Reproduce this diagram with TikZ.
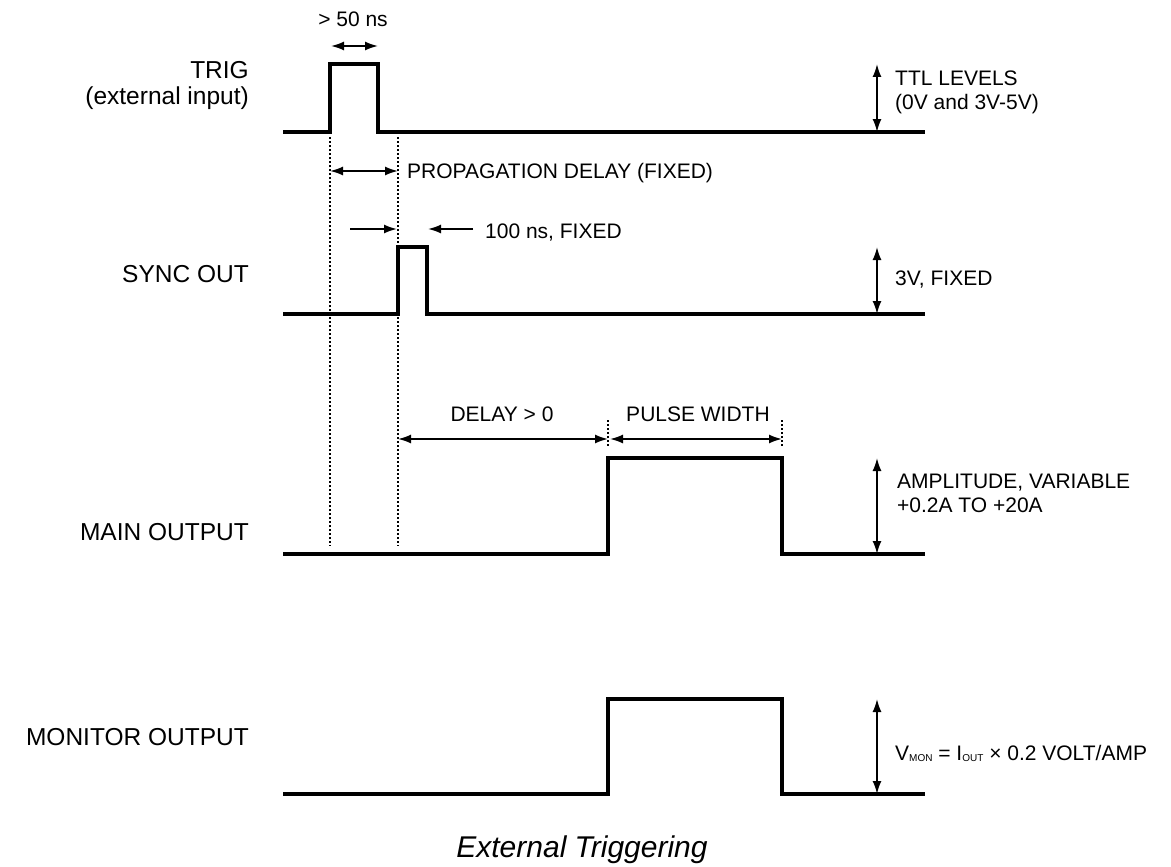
\documentclass[tikz,border=0pt]{standalone}
\usepackage{fontspec}
\setmainfont{Liberation Sans}
\usetikzlibrary{arrows.meta}
\begin{document}
\begin{tikzpicture}[x=1pt,y=-1pt,
  wave/.style={line width=3.5pt, line join=miter},
  dimline/.style={line width=1.8pt, {Latex[length=13pt,width=9pt]}-{Latex[length=13pt,width=9pt]}},
  onearrow/.style={line width=1.8pt, -{Latex[length=13pt,width=9pt]}},
  guide/.style={line width=1.8pt, dash pattern=on 1.8pt off 2.2pt},
  lbl/.style={font=\fontsize{21}{24}\selectfont, inner sep=0pt},
  sig/.style={font=\fontsize{24.5}{28}\selectfont, inner sep=0pt, anchor=base east},
]
\useasboundingbox (0,0) rectangle (1171,867);

% --- waveform corner points
\coordinate (t0) at (283,132); \coordinate (t1) at (330,132); \coordinate (t2) at (330,64);
\coordinate (t3) at (378,64);  \coordinate (t4) at (378,132); \coordinate (t5) at (925,132);
\coordinate (s0) at (283,314); \coordinate (s1) at (398,314); \coordinate (s2) at (398,247);
\coordinate (s3) at (427,247); \coordinate (s4) at (427,314); \coordinate (s5) at (925,314);
\coordinate (m0) at (283,554); \coordinate (m1) at (608,554); \coordinate (m2) at (608,458);
\coordinate (m3) at (782,458); \coordinate (m4) at (782,554); \coordinate (m5) at (925,554);
\coordinate (n0) at (283,794); \coordinate (n1) at (608,794); \coordinate (n2) at (608,699);
\coordinate (n3) at (782,699); \coordinate (n4) at (782,794); \coordinate (n5) at (925,794);

\draw[wave] (t0) -- (t1) -- (t2) -- (t3) -- (t4) -- (t5);
\draw[wave] (s0) -- (s1) -- (s2) -- (s3) -- (s4) -- (s5);
\draw[wave] (m0) -- (m1) -- (m2) -- (m3) -- (m4) -- (m5);
\draw[wave] (n0) -- (n1) -- (n2) -- (n3) -- (n4) -- (n5);

% --- guide lines
\coordinate (g1a) at (330,137); \coordinate (g1b) at (330,546);
\coordinate (g2a) at (398,137); \coordinate (g2b) at (398,546);
\coordinate (g3a) at (608,420); \coordinate (g3b) at (608,447);
\coordinate (g4a) at (782,420); \coordinate (g4b) at (782,447);
\draw[guide] (g1a) -- (g1b);
\draw[guide] (g2a) -- (g2b);
\draw[guide] (g3a) -- (g3b);
\draw[guide] (g4a) -- (g4b);

% --- dimension arrows
\coordinate (a1) at (331,46);  \coordinate (a2) at (378,46);
\coordinate (p1) at (330,171); \coordinate (p2) at (398,171);
\coordinate (h1) at (350,229); \coordinate (h2) at (397,229);
\coordinate (h3) at (473,229); \coordinate (h4) at (428,229);
\coordinate (d1) at (398,439); \coordinate (d2) at (608,439);
\coordinate (w1) at (610,439); \coordinate (w2) at (782,439);
\coordinate (v1) at (877,64);  \coordinate (v2) at (877,132);
\coordinate (v3) at (877,247); \coordinate (v4) at (877,314);
\coordinate (v5) at (877,458); \coordinate (v6) at (877,554);
\coordinate (v7) at (877,699); \coordinate (v8) at (877,794);
\draw[dimline] (a1) -- (a2);
\draw[dimline] (p1) -- (p2);
\draw[onearrow] (h1) -- (h2);
\draw[onearrow] (h3) -- (h4);
\draw[dimline] (d1) -- (d2);
\draw[dimline] (w1) -- (w2);
\draw[dimline] (v1) -- (v2);
\draw[dimline] (v3) -- (v4);
\draw[dimline] (v5) -- (v6);
\draw[dimline] (v7) -- (v8);

% --- signal names
\node[sig] (trig) at (249,78) {TRIG};
\node[sig] (ext) at (249,105) {(external input)};
\node[sig] (sync) at (249,282) {SYNC OUT};
\node[sig] (main) at (249,540) {MAIN OUTPUT};
\node[sig] (mon) at (249,745) {MONITOR OUTPUT};

% --- annotations
\node[lbl, anchor=base] (l50) at (353,27) {> 50 ns};
\node[lbl, anchor=base west] (ttl1) at (895,86) {TTL LEVELS};
\node[lbl, anchor=base west] (ttl2) at (895,110) {(0V and 3V-5V)};
\node[lbl, anchor=base west] (prop) at (407,178) {PROPAGATION DELAY (FIXED)};
\node[lbl, anchor=base west] (hund) at (485,238) {100 ns, FIXED};
\node[lbl, anchor=base west] (threev) at (895,285) {3V, FIXED};
\node[lbl, anchor=base] (dly) at (502,421) {DELAY > 0};
\node[lbl, anchor=base] (pw) at (698,421) {PULSE WIDTH};
\node[lbl, anchor=base west] (amp1) at (897,488) {AMPLITUDE, VARIABLE};
\node[lbl, anchor=base west] (amp2) at (897,512) {+0.2A TO +20A};
\node[lbl, anchor=base west] (vmon) at (895,760) {V\raisebox{-1.5pt}{\fontsize{10}{10}\selectfont MON} = I\raisebox{-1.5pt}{\fontsize{10}{10}\selectfont OUT} × 0.2 VOLT/AMP};

\node[inner sep=0pt, anchor=base, font=\fontsize{30}{34}\selectfont\itshape] (title) at (582,857) {External Triggering};
\end{tikzpicture}
\end{document}
